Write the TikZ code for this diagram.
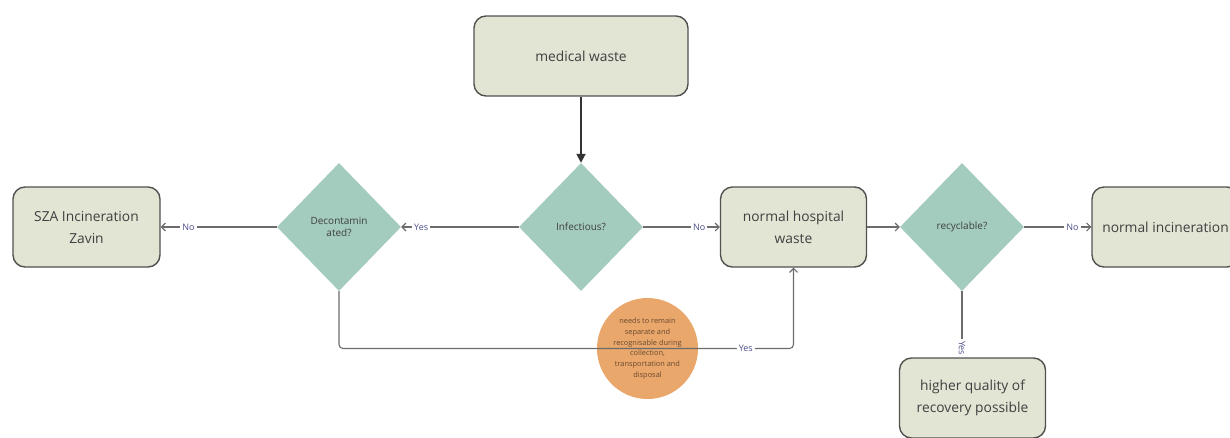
\documentclass[tikz,border=0pt]{standalone}
\usepackage{fontspec}
\setmainfont{Open Sans}
\usetikzlibrary{shapes.geometric,arrows.meta}
\definecolor{boxfill}{HTML}{E2E4D4}
\definecolor{boxline}{HTML}{505250}
\definecolor{boxtext}{HTML}{3F4040}
\definecolor{diafill}{HTML}{A3CBBE}
\definecolor{flowline}{HTML}{6C6C6C}
\definecolor{labelcol}{HTML}{4A4E88}
\definecolor{notefill}{HTML}{E9A76B}
\definecolor{notetext}{HTML}{6A4A30}

\tikzset{
  stepbox/.style={draw=boxline, line width=1.4pt, fill=boxfill, rounded corners=12pt,
    minimum width=146pt, minimum height=80pt, align=center, text=boxtext,
    font=\fontsize{13.8}{22}\selectfont},
  decision/.style={diamond, fill=diafill, minimum width=124pt, minimum height=128pt,
    inner sep=0pt, align=center, text=boxtext, font=\fontsize{10}{12}\selectfont},
  flow/.style={draw=flowline, line width=1.1pt, -{Straight Barb[length=4pt,width=8pt]}},
  mainflow/.style={draw=black!80, line width=1.8pt, -{Triangle[length=9pt,width=9pt]}},
  tag/.style={fill=white, inner sep=2pt, text=labelcol, font=\fontsize{9}{10}\selectfont},
  note/.style={circle, fill=notefill, minimum size=101pt, inner sep=0pt, align=center,
    text=notetext, font=\fontsize{7.4}{10.7}\selectfont},
}

\begin{document}
\begin{tikzpicture}[x=1pt,y=-1pt]
  \useasboundingbox (0,0) rectangle (1230,437);
  \clip (0,0) rectangle (1230,437);

  % process boxes and decisions
  \node[stepbox, minimum width=214pt] (med) at (581,56) {medical waste};
  \node[decision] (inf) at (581,227) {Infectious?};
  \node[decision] (dec) at (339,227) {Decontamin\\ated?};
  \node[stepbox, minimum width=147pt] (sza) at (86.5,227) {SZA Incineration\\Zavin};
  \node[stepbox] (nhw) at (793.5,227) {normal hospital\\waste};
  \node[decision] (rec) at (962,227) {recyclable?};
  \node[stepbox, minimum width=147pt] (inc) at (1165.5,227) {normal incineration};
  \node[stepbox] (hq) at (972.5,398) {higher quality of\\recovery possible};

  % annotation
  \node[note] (nt) at (647.5,348.5) {needs to remain\\separate and\\recognisable during\\collection,\\transportation and\\disposal};

  % connectors
  \draw[mainflow] (med) -- (inf);
  \draw[flow] (inf) -- node[tag, pos=0.83] {Yes} (dec);
  \draw[flow] (dec) -- node[tag, pos=0.76] {No} (sza);
  \draw[flow] (inf) -- node[tag, pos=0.73] {No} (nhw);
  \draw[flow] (nhw) -- (rec);
  \draw[flow] (rec) -- node[tag, pos=0.72] {No} (inc);
  \draw[flow] (rec) -- node[tag, rotate=-90, pos=0.86] {Yes} (hq.north -| rec);
  \draw[flow, rounded corners=4pt] (dec.south) -- (dec.south |- nt)
    -- node[tag, pos=0.895] {Yes} (nhw.south |- nt) -- (nhw.south);
\end{tikzpicture}
\end{document}
